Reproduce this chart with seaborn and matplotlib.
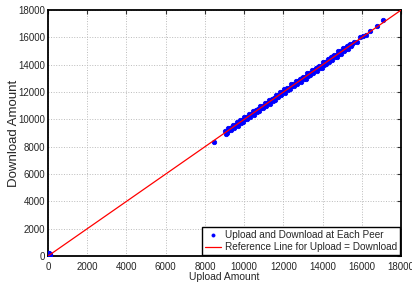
import numpy as np
import pandas as pd
import matplotlib
matplotlib.use("Agg")
import matplotlib.pyplot as plt
import seaborn as sns

# -------------------------------
# Data
# -------------------------------
upload = [0, 10, 20, 30, 40, 50, 60, 80, 100, 120, 8450,
          9000, 9050, 9100, 9150, 9200, 9250, 9300, 9350, 9400, 9450,
          9500, 9550, 9600, 9650, 9700, 9750, 9800, 9850, 9900, 9950,
          10000, 10050, 10100, 10150, 10200, 10250, 10300, 10350, 10400, 10450,
          10500, 10550, 10600, 10650, 10700, 10750, 10800, 10850, 10900, 10950,
          11000, 11050, 11100, 11150, 11200, 11250, 11300, 11350, 11400, 11450,
          11500, 11550, 11600, 11650, 11700, 11750, 11800, 11850, 11900, 11950,
          12000, 12050, 12100, 12150, 12200, 12250, 12300, 12350, 12400, 12450,
          12500, 12550, 12600, 12650, 12700, 12750, 12800, 12850, 12900, 12950,
          13000, 13050, 13100, 13150, 13200, 13250, 13300, 13350, 13400, 13450,
          13500, 13550, 13600, 13650, 13700, 13750, 13800, 13850, 13900, 13950,
          14000, 14050, 14100, 14150, 14200, 14250, 14300, 14350, 14400, 14450,
          14500, 14550, 14600, 14650, 14700, 14750, 14800, 14850, 14900, 14950,
          15000, 15050, 15100, 15150, 15200, 15250, 15300, 15350, 15400, 15450,
          15500, 15600, 15750, 15900, 16050, 16200, 16430, 16790, 17090]
download = [50, 150, 250, 100, 30, 200, 80, 120, 60, 10, 8380,
            9120, 8960, 9130, 8990, 9380, 9210, 9370, 9220, 9410, 9600,
            9390, 9610, 9580, 9790, 9530, 9840, 9920, 9760, 9930, 9790,
            10180, 10010, 10170, 10020, 10210, 10400, 10190, 10410, 10380, 10590,
            10330, 10640, 10720, 10560, 10730, 10590, 10980, 10810, 10970, 10820,
            11010, 11200, 10990, 11210, 11180, 11390, 11130, 11440, 11520, 11360,
            11530, 11390, 11780, 11610, 11770, 11620, 11810, 12000, 11790, 12010,
            11980, 12190, 11930, 12240, 12320, 12160, 12330, 12190, 12580, 12410,
            12570, 12420, 12610, 12800, 12590, 12810, 12780, 12990, 12730, 13040,
            13120, 12960, 13130, 12990, 13380, 13210, 13370, 13220, 13410, 13600,
            13390, 13610, 13580, 13790, 13530, 13840, 13920, 13760, 13930, 13790,
            14180, 14010, 14170, 14020, 14210, 14400, 14190, 14410, 14380, 14590,
            14330, 14640, 14720, 14560, 14730, 14590, 14980, 14810, 14970, 14820,
            15010, 15200, 14990, 15210, 15180, 15390, 15130, 15440, 15520, 15360,
            15530, 15700, 15650, 16000, 16100, 16180, 16500, 16860, 17250]
ref_x = [0, 18000]
ref_y = [0, 18000]

df = pd.DataFrame({"upload": upload, "download": download})
ref = pd.DataFrame({"x": ref_x, "y": ref_y})

# -------------------------------
# Style
# -------------------------------
sns.set_style("white")
plt.rcParams["font.family"] = ["Liberation Sans", "DejaVu Sans"]
plt.rcParams["font.size"] = 7

fig = plt.figure(figsize=(4.12, 2.88), dpi=100)
ax = fig.add_axes([0.1165, 0.111, 0.857, 0.854])

sns.scatterplot(data=df, x="upload", y="download", ax=ax, marker="o", s=10,
                color="blue", edgecolor="blue", linewidth=0.6,
                label="Upload and Download at Each Peer", zorder=3)
sns.lineplot(data=ref, x="x", y="y", ax=ax, color="red", linewidth=0.9,
             label="Reference Line for Upload = Download", zorder=4)

ax.set_xlim(0, 18000)
ax.set_ylim(0, 18000)
ticks = list(range(0, 18001, 2000))
ax.set_xticks(ticks)
ax.set_yticks(ticks)
ax.tick_params(direction="in", length=3, width=0.8, top=True, right=True,
               labelsize=7, pad=2, color="#333333")
ax.tick_params(axis="x", pad=4)
ax.grid(True, linestyle=":", color="#bbbbbb", linewidth=0.7)
for s in ax.spines.values():
    s.set_color("black")
    s.set_linewidth(1.3)
ax.set_xlabel("Upload Amount", fontsize=7.5, labelpad=0)
ax.set_ylabel("Download Amount", fontsize=9.5, labelpad=-1)

leg = ax.legend(loc="lower right", fontsize=7.2, frameon=True, fancybox=False,
                borderpad=0.25, handlelength=1.6, handletextpad=0.4,
                labelspacing=0.25, borderaxespad=0.15, markerscale=0.7)
leg.get_frame().set_edgecolor("black")
leg.get_frame().set_linewidth(1.0)
leg.get_frame().set_alpha(1)

fig.savefig("out.png", dpi=100)
